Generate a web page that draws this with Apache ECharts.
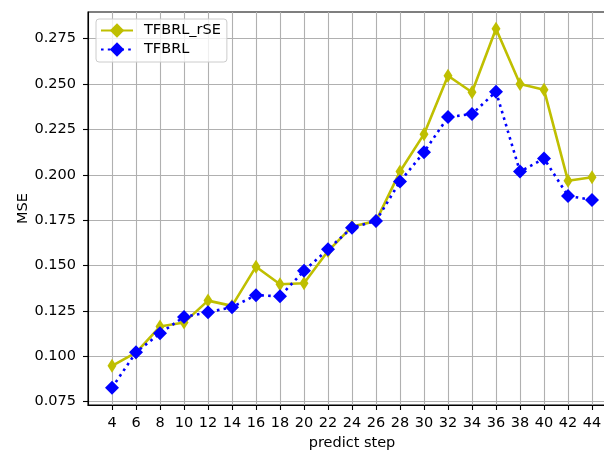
<!DOCTYPE html>
<html>
<head>
<meta charset="utf-8">
<script src="https://cdn.jsdelivr.net/npm/echarts@6/dist/echarts.min.js"></script>
<style>
  html, body { margin: 0; padding: 0; background: #fff; }
  #chart { width: 604px; height: 450px; }
</style>
</head>
<body>
<div id="chart"></div>
<script>
// predict steps on the x axis
const steps = [4, 6, 8, 10, 12, 14, 16, 18, 20, 22, 24, 26, 28, 30, 32, 34, 36, 38, 40, 42, 44];
// MSE
const rseValues = [0.0948, 0.1020, 0.1164, 0.1186, 0.1307, 0.1278, 0.1494, 0.1397, 0.1403, 0.1580, 0.1715,
                   0.1745, 0.2018, 0.2224, 0.2546, 0.2455, 0.2805, 0.2500, 0.2469, 0.1967, 0.1987];
const baseValues = [0.0827, 0.1022, 0.1127, 0.1217, 0.1243, 0.1271, 0.1337, 0.1331, 0.1471, 0.1590, 0.1709,
                    0.1746, 0.1963, 0.2125, 0.2318, 0.2335, 0.2458, 0.2018, 0.2090, 0.1884, 0.1862];
const yTicks = [0.075, 0.1, 0.125, 0.15, 0.175, 0.2, 0.225, 0.25, 0.275];

const font = 'DejaVu Sans';
const chart = echarts.init(document.getElementById('chart'));

const toPairs = (vals) => steps.map((s, i) => [s, vals[i]]);

const option = {
  animation: false,
  backgroundColor: '#fff',
  textStyle: { fontFamily: font },
  grid: {
    left: 88, top: 12, right: -12, bottom: 45,
    outerBoundsMode: 'none',
    containLabel: false,
    show: true, borderColor: '#000', borderWidth: 1.1, backgroundColor: 'transparent'
  },
  legend: {
    orient: 'vertical',
    left: 96, top: 19,
    padding: [4, 6, 5, 4],
    itemWidth: 32, itemHeight: 18, itemGap: 4,
    backgroundColor: 'rgba(255,255,255,0.8)',
    borderColor: '#ccc', borderWidth: 1, borderRadius: 3,
    textStyle: { fontFamily: font, fontSize: 14.5, color: '#000', padding: [0, 0, 0, 6] },
    data: ['TFBRL_rSE', 'TFBRL']
  },
  xAxis: {
    type: 'value',
    min: 2, max: 46, interval: 2,
    name: 'predict step', nameLocation: 'middle', nameGap: 31,
    nameMoveOverlap: false,
    nameTextStyle: { fontFamily: font, fontSize: 14.5, color: '#000' },
    axisLine: { show: true, lineStyle: { color: '#000', width: 1.1 } },
    axisTick: { show: true, inside: false, length: 5, customValues: steps, lineStyle: { color: '#000', width: 1.1 } },
    axisLabel: {
      fontFamily: font, fontSize: 14.5, color: '#000', margin: 11,
      customValues: steps,
      formatter: (v) => String(v)
    },
    splitLine: { show: true, lineStyle: { color: '#b0b0b0', width: 1.1 } }
  },
  yAxis: {
    type: 'value',
    min: 0.0732, max: 0.2897,
    name: 'MSE', nameLocation: 'middle', nameGap: 57,
    nameMoveOverlap: false,
    nameTextStyle: { fontFamily: font, fontSize: 14.5, color: '#000' },
    axisLine: { show: true, lineStyle: { color: '#000', width: 1.1 } },
    axisTick: { show: true, inside: false, length: 5, customValues: yTicks, lineStyle: { color: '#000', width: 1.1 } },
    axisLabel: {
      fontFamily: font, fontSize: 14.5, color: '#000', margin: 12,
      customValues: yTicks,
      formatter: (v) => v.toFixed(3)
    },
    splitLine: { show: true, lineStyle: { color: '#b0b0b0', width: 1.1 } }
  },
  series: [
    {
      name: 'TFBRL_rSE',
      type: 'line',
      data: toPairs(rseValues),
      symbol: 'diamond',
      symbolSize: [9, 14],
      itemStyle: { color: '#bfbf00' },
      lineStyle: { color: '#bfbf00', width: 2.6 },
      z: 2
    },
    {
      name: 'TFBRL',
      type: 'line',
      data: toPairs(baseValues),
      symbol: 'diamond',
      symbolSize: 14,
      itemStyle: { color: '#0000ff' },
      lineStyle: { color: '#0000ff', width: 2.6, type: [2.6, 4.2] },
      z: 3
    }
  ]
};

chart.setOption(option);
</script>
</body>
</html>
